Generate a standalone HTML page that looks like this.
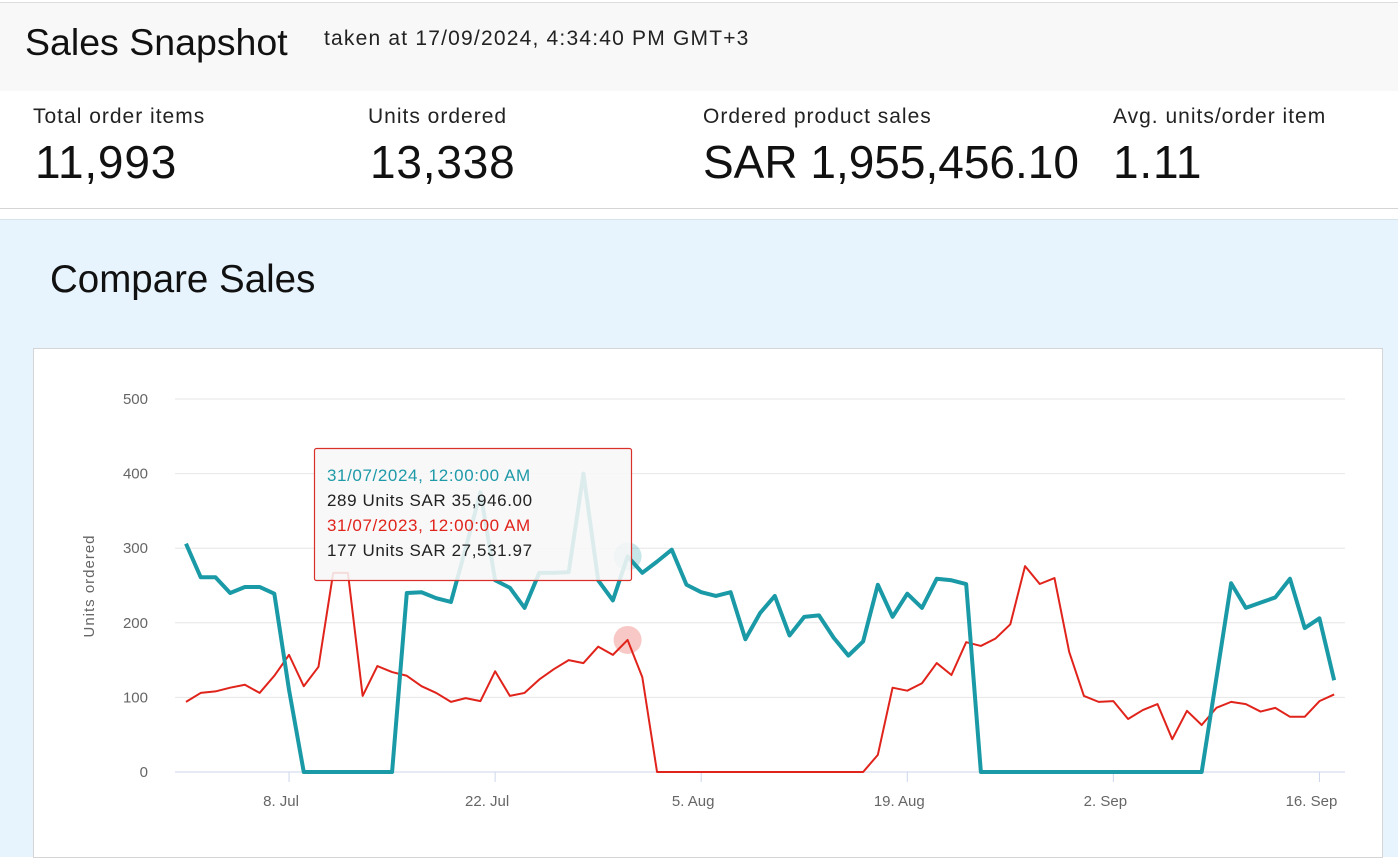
<!DOCTYPE html>
<html><head><meta charset="utf-8">
<style>
body{margin:0;width:1398px;height:856px;overflow:hidden;background:#fff;font-family:"Liberation Sans",sans-serif;color:#111;position:relative}
.abs{position:absolute}
#hdr{left:0;top:2px;width:1398px;height:88px;background:#f8f8f8;border-top:1px solid #ddd;border-bottom:1px solid #d5d5d5}
#metrics{left:0;top:91px;width:1398px;height:117px;background:#fff;border-bottom:1px solid #d5d5d5}
#blue{left:0;top:219px;width:1398px;height:637px;background:#e7f4fd;border-top:1px solid #d8e4ec}
.lbl{font-size:21px;color:#222;letter-spacing:1px}
.val{font-size:46px;color:#111;letter-spacing:0.8px}
#chartbox{left:33px;top:348px;width:1348px;height:508px;background:#fff;border:1px solid #d5d5d5}
</style></head><body>
<div id="hdr" class="abs"></div>
<div class="abs" style="left:25px;top:21px;font-size:37.5px;color:#111">Sales Snapshot</div>
<div class="abs" style="left:324px;top:27px;font-size:21px;color:#222;letter-spacing:1.2px">taken at 17/09/2024, 4:34:40 PM GMT+3</div>
<div id="metrics" class="abs"></div>
<div class="abs lbl" style="left:33px;top:105px">Total order items</div>
<div class="abs val" style="left:35px;top:135px">11,993</div>
<div class="abs lbl" style="left:368px;top:105px">Units ordered</div>
<div class="abs val" style="left:370px;top:135px">13,338</div>
<div class="abs lbl" style="left:703px;top:105px">Ordered product sales</div>
<div class="abs val" style="left:703px;top:135px;letter-spacing:0">SAR 1,955,456.10</div>
<div class="abs lbl" style="left:1113px;top:105px">Avg. units/order item</div>
<div class="abs val" style="left:1113px;top:135px">1.11</div>
<div id="blue" class="abs"></div>
<div class="abs" style="left:50px;top:258px;font-size:38.5px;color:#111">Compare Sales</div>
<div id="chartbox" class="abs"></div>
<svg id="chart" class="abs" style="left:0;top:0" width="1398" height="856"></svg>
<script>
const yTicks=[0,100,200,300,400,500];
const xTickLabels=["8. Jul","22. Jul","5. Aug","19. Aug","2. Sep","16. Sep"];
const xTickIdx=[7,21,35,49,63,77];
const units2024=[306,261,261,240,248,248,239,110,0,0,0,0,0,0,0,240,241,233,228,300,375,257,247,220,267,267,268,400,257,230,289,267,282,298,251,241,236,241,178,213,236,183,208,210,180,156,175,251,208,239,220,259,257,252,0,0,0,0,0,0,0,0,0,0,0,0,0,0,0,0,126,253,220,227,234,259,193,206,123];
const units2023=[94,106,108,113,117,106,129,157,115,141,267,267,102,142,134,129,115,106,94,99,95,135,102,106,124,138,150,146,168,157,177,127,0,0,0,0,0,0,0,0,0,0,0,0,0,0,0,23,113,109,119,146,130,174,169,179,198,276,252,260,161,102,94,95,71,83,91,44,82,63,86,94,91,81,86,74,74,95,104];
const hoverIdx=30;
const NS="http://www.w3.org/2000/svg";
const svg=document.getElementById('chart');
const X=i=>186+i*14.72;
const Y=v=>772-v*0.746;
function mk(t,a){const e=document.createElementNS(NS,t);for(const k in a)e.setAttribute(k,a[k]);svg.appendChild(e);return e;}
yTicks.forEach(v=>{
  const l=mk('line',{x1:175,x2:1345,y1:Y(v),y2:Y(v),stroke:v===0?'#ccd6eb':'#e6e6e6','stroke-width':1});
  
  
  const t=mk('text',{x:148,y:Y(v)+5,'text-anchor':'end','font-size':15,fill:'#666','font-family':'Liberation Sans, sans-serif'});
  t.textContent=v;
  
  
});
xTickIdx.forEach((ix,k)=>{
  const l=mk('line',{x1:X(ix),x2:X(ix),y1:772,y2:782,stroke:'#ccd6eb'});
  
  
  const t=mk('text',{x:X(ix)-8,y:806,'text-anchor':'middle','font-size':15,fill:'#666','font-family':'Liberation Sans, sans-serif'});
  t.textContent=xTickLabels[k];
  
  
});
const yt=mk('text',{x:0,y:0,transform:'translate(94,586) rotate(-90)','text-anchor':'middle','font-size':15,fill:'#666','letter-spacing':'1','font-family':'Liberation Sans, sans-serif'});
yt.textContent='Units ordered';


const p23=mk('polyline',{points:units2023.map((v,i)=>X(i)+','+Y(v)).join(' '),fill:'none',stroke:'#e0231b','stroke-width':2,'stroke-linejoin':'round'});


const p24=mk('polyline',{points:units2024.map((v,i)=>X(i)+','+Y(v)).join(' '),fill:'none',stroke:'#1a9aa6','stroke-width':4,'stroke-linejoin':'round'});


const h1=mk('circle',{cx:X(hoverIdx),cy:Y(units2024[hoverIdx]),r:14,fill:'#1a9aa6','fill-opacity':0.25});


const h2=mk('circle',{cx:X(hoverIdx),cy:Y(units2023[hoverIdx]),r:14,fill:'#e0231b','fill-opacity':0.25});


const tb=mk('rect',{x:314.5,y:448.5,width:317,height:132,rx:2,fill:'#f7f7f7','fill-opacity':0.88,stroke:'#d9302a','stroke-width':1.2});


const lines=[['31/07/2024, 12:00:00 AM','#1f9aa8'],[units2024[hoverIdx]+' Units SAR 35,946.00','#222'],['31/07/2023, 12:00:00 AM','#e0231b'],[units2023[hoverIdx]+' Units SAR 27,531.97','#222']];
lines.forEach((l,k)=>{
  const t=mk('text',{x:327,y:481+k*25,'font-size':17,fill:l[1],'letter-spacing':'0.6','font-family':'Liberation Sans, sans-serif'});
  t.textContent=l[0];
  
  
});
</script>
</body></html>
